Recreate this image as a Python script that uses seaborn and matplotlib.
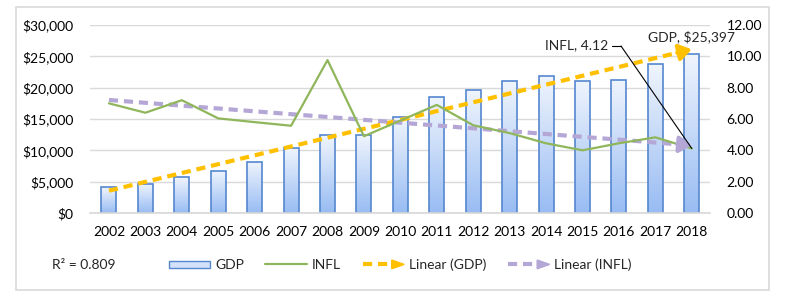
import numpy as np
import pandas as pd
import matplotlib
matplotlib.use("Agg")
import matplotlib.pyplot as plt
import seaborn as sns
from matplotlib.patches import Rectangle, Polygon
from matplotlib.lines import Line2D
from matplotlib.legend_handler import HandlerBase
from matplotlib.ticker import FuncFormatter
from matplotlib.colors import LinearSegmentedColormap

years = [str(y) for y in range(2002, 2019)]
gdp = [4100, 4700, 5700, 6750, 8200, 10400, 12400, 12400, 15300, 18450,
       19600, 21000, 21850, 21100, 21300, 23700, 25397]
infl = [7.0, 6.4, 7.2, 6.04, 5.8, 5.57, 9.76, 4.9, 5.9, 6.9,
        5.6, 5.1, 4.45, 4.0, 4.45, 4.83, 4.12]
r2_text = "R² = 0.809"
gdp_label = "GDP, $25,397"
infl_label = "INFL, 4.12"

sns.set_theme(style="white")
plt.rcParams['font.family'] = ['Lato', 'DejaVu Sans']
FS = 10

df = pd.DataFrame({"year": years, "GDP": gdp, "INFL": infl})

fig = plt.figure(figsize=(7.93, 3.01), dpi=100)
# outer chart border
fig.patches.append(Rectangle((16/793, 1-290/301), (769-16)/793, (290-7)/301,
                             transform=fig.transFigure, fill=False,
                             edgecolor="#d9d9d9", linewidth=1.2))
ax = fig.add_axes([90/793, 1-213/301, 620/793, 188/301])

sns.barplot(data=df, x="year", y="GDP", ax=ax, width=0.41,
            color="#c9dbf7", edgecolor="#5587d0", linewidth=1.2, zorder=2)
ax.set_xlim(-0.52, 16.5)
ax.set_ylim(0, 30000)

# gradient fill in bars
cmap = LinearSegmentedColormap.from_list("g", ["#98bcf3", "#f0f5fd"])
grad = np.linspace(0, 1, 256).reshape(-1, 1)
for p in list(ax.patches):
    x0, y0 = p.get_x(), p.get_y()
    w, h = p.get_width(), p.get_height()
    im = ax.imshow(grad, cmap=cmap, origin="lower", aspect="auto",
                   extent=[x0, x0 + w, y0, y0 + h], zorder=2.1)
    im.set_clip_path(p)
    p.set_facecolor("none")
    p.set_zorder(2.2)
ax.set_xlim(-0.52, 16.5)
ax.set_ylim(0, 30000)

ax.yaxis.set_major_formatter(FuncFormatter(lambda v, _: f"${v:,.0f}"))
ax.set_yticks(range(0, 30001, 5000))
ax.grid(axis="y", color="#d9d9d9", linewidth=1, zorder=0)
ax.set_axisbelow(True)
for s in ["top", "right", "left"]:
    ax.spines[s].set_visible(False)
ax.spines["bottom"].set_color("#d9d9d9")
ax.set_xlabel("")
ax.set_ylabel("")
ax.tick_params(axis="both", length=0, labelsize=FS, colors="black")
ax.tick_params(axis="x", pad=9)
ax.tick_params(axis="y", pad=12)

xs = np.arange(len(years))
# GDP linear trend
cg = np.polyfit(xs, gdp, 1)
tg = np.polyval(cg, xs)
ax.plot(xs[:-1].tolist() + [15.75], list(tg[:-1]) + [np.polyval(cg, 15.75)],
        ls=(0, (2.2, 1.4)), color="#ffc000", lw=3, zorder=4, solid_capstyle="butt")
ax.annotate("", xy=(16, tg[-1]), xytext=(15.6, np.polyval(cg, 15.6)),
            arrowprops=dict(arrowstyle="-|>,head_length=0.6,head_width=0.4",
                            color="#ffc000", lw=3, shrinkA=0, shrinkB=0), zorder=4)

ax2 = ax.twinx()
ax2.set_ylim(0, 12)
ax2.set_yticks(np.arange(0, 12.01, 2))
ax2.yaxis.set_major_formatter(FuncFormatter(lambda v, _: f"{v:.2f}"))
for s in ["top", "right", "left", "bottom"]:
    ax2.spines[s].set_visible(False)
ax2.tick_params(axis="y", length=0, labelsize=FS, pad=12, colors="black")
sns.lineplot(x=xs, y=infl, ax=ax2, color="#8fb65a", lw=1.6, zorder=3)

ci = np.polyfit(xs, infl, 1)
ti = np.polyval(ci, xs)
ax2.plot(xs[:-1].tolist() + [15.75], list(ti[:-1]) + [np.polyval(ci, 15.75)],
         ls=(0, (2.2, 1.4)), color="#b4a7d6", lw=3, zorder=2.5)
ax2.annotate("", xy=(16, ti[-1]), xytext=(15.6, np.polyval(ci, 15.6)),
             arrowprops=dict(arrowstyle="-|>,head_length=0.6,head_width=0.4",
                             color="#b4a7d6", lw=3, shrinkA=0, shrinkB=0))
ax2.set_xlim(-0.52, 16.5)

# data labels
fig.text(545/793, 1-45/301, infl_label, ha="left", va="center", fontsize=FS)
fig.lines.append(Line2D([612/793, 621/793], [1-46/301, 1-46/301],
                        transform=fig.transFigure, color="black", lw=0.8))
ax2.annotate("", xy=(16, infl[-1]), xytext=(621/793, 1-46/301),
             textcoords="figure fraction",
             arrowprops=dict(arrowstyle="-", color="black", lw=0.8,
                             shrinkA=0, shrinkB=0))
ax.text(16, tg[-1] + 900, gdp_label, ha="center", va="bottom", fontsize=FS)
fig.text(52/793, 1-265/301, r2_text, fontsize=FS, va="center", ha="left")


class ArrowHandler(HandlerBase):
    def __init__(self, color):
        super().__init__()
        self.color = color

    def create_artists(self, legend, orig_handle, xdescent, ydescent, width,
                       height, fontsize, trans):
        y = height / 2 - ydescent
        line = Line2D([-xdescent, -xdescent + width * 0.78], [y, y],
                      ls=(0, (2.2, 1.4)), color=self.color, lw=3, transform=trans)
        hw = height * 0.45
        tri = Polygon([[-xdescent + width * 0.7, y - hw],
                       [-xdescent + width, y],
                       [-xdescent + width * 0.7, y + hw]],
                      closed=True, color=self.color, transform=trans)
        return [line, tri]


class BarHandler(HandlerBase):
    def create_artists(self, legend, orig_handle, xdescent, ydescent, width,
                       height, fontsize, trans):
        r = Rectangle((-xdescent, -ydescent + height * 0.15), width, height * 0.7,
                      facecolor="#d3e2f9", edgecolor="#5587d0", lw=1,
                      transform=trans)
        return [r]


h_bar = Rectangle((0, 0), 1, 1)
h_line = Line2D([], [], color="#8fb65a", lw=1.6)
h_g = Line2D([], [], color="#ffc000")
h_i = Line2D([], [], color="#b4a7d6")
fig.legend([h_bar, h_line, h_g, h_i], ["GDP", "INFL", "Linear (GDP)", "Linear (INFL)"],
           handler_map={h_bar: BarHandler(), h_g: ArrowHandler("#ffc000"),
                        h_i: ArrowHandler("#b4a7d6")},
           loc="center left", bbox_to_anchor=(163/793, 1-265/301), ncol=4,
           frameon=False, fontsize=FS, handlelength=3.0, handletextpad=0.35,
           columnspacing=1.55, borderaxespad=0)

fig.savefig("out.png", dpi=100)
